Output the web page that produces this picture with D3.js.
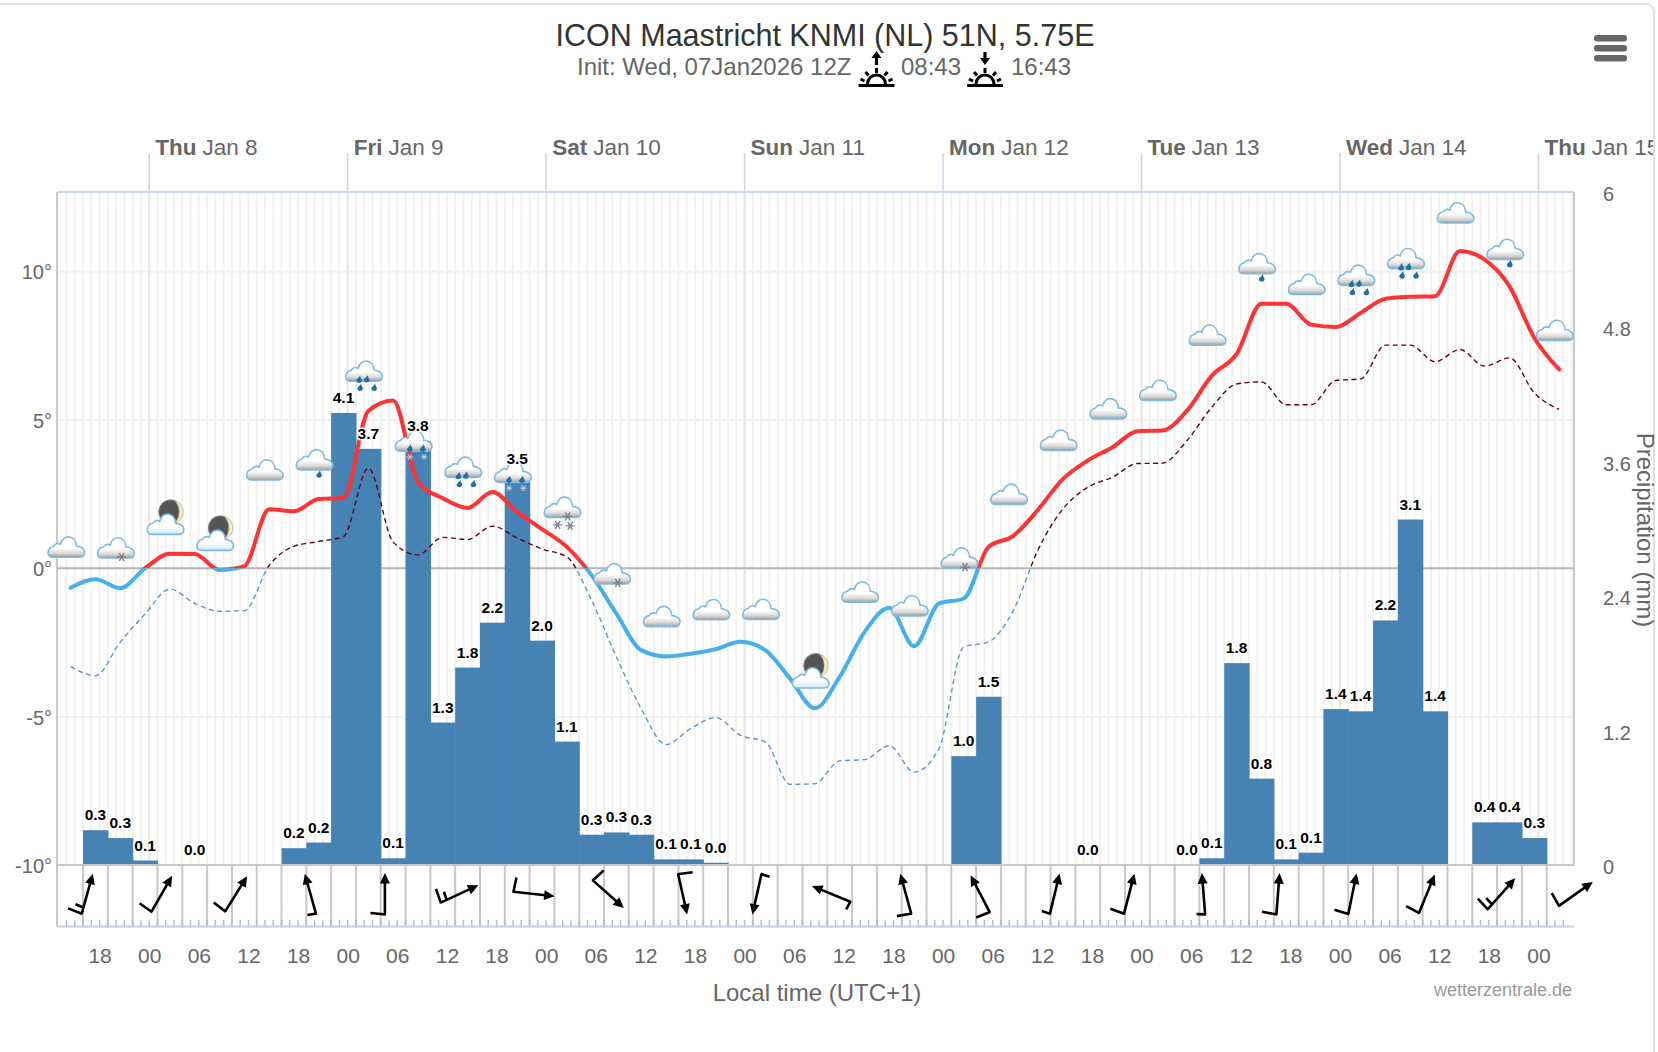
<!DOCTYPE html>
<html>
<head>
<meta charset="utf-8">
<title>ICON Maastricht</title>
<script src="https://cdn.jsdelivr.net/npm/d3@7"></script>
<style>
html,body{margin:0;padding:0;background:#fff;overflow:hidden}
svg{display:block;font-family:"Liberation Sans",Arial,sans-serif}
</style>
</head>
<body>
<div id="chart"></div>
<script>
// ---- data (hours counted from Thu Jan 8 00:00 local time) ----
const title = "ICON Maastricht KNMI (NL) 51N, 5.75E";
const initText = "Init: Wed, 07Jan2026 12Z";
const sunriseText = "08:43";
const sunsetText = "16:43";
const dayNames = ["Thu","Fri","Sat","Sun","Mon","Tue","Wed","Thu"];
const dayDates = ["Jan 8","Jan 9","Jan 10","Jan 11","Jan 12","Jan 13","Jan 14","Jan 15"];

// 3-hourly temperature samples, first sample at hour -9.5
const tempStart = -9.5, tempStep = 3;
const temperature = [-0.66,-0.37,-0.67,0,0.49,0.48,-0.06,0.07,1.99,1.92,2.33,2.37,5.3,5.65,2.9,2.36,2.03,2.57,1.89,1.32,
 0.72,-0.24,-1.53,-2.76,-2.97,-2.88,-2.73,-2.48,-2.76,-3.72,-4.72,-3.66,-2.15,-1.33,-2.63,-1.19,-1.02,0.72,1.09,1.98,
 3.01,3.63,4.08,4.62,4.64,5.31,6.49,7.22,8.91,8.91,8.21,8.13,8.6,9.08,9.15,9.17,10.69,10.4,9.5,7.76,6.7];
const dewPoint = [-3.31,-3.62,-2.49,-1.54,-0.7,-1.18,-1.45,-1.43,0.09,0.74,0.9,1.07,3.37,0.88,0.45,1.04,0.97,1.42,1.02,0.65,
 0.38,-1.08,-2.99,-4.73,-5.94,-5.4,-5.03,-5.63,-5.85,-7.28,-7.26,-6.49,-6.45,-5.98,-6.87,-6.08,-2.65,-2.48,-1.42,0.63,
 2.0,2.73,3.07,3.53,3.54,4.3,5.43,6.21,6.28,5.51,5.51,6.33,6.38,7.52,7.52,6.96,7.37,6.81,7.09,5.91,5.35];

// 3-hour precipitation bars
const precipStart = [-8,-5,-2,4,16,19,22,25,28,31,34,37,40,43,46,49,52,55,58,61,64,67,97,100,112,124,127,130,133,136,139,142,145,148,151,154,160,163,166];
const precipValue = [0.31,0.24,0.04,0,0.15,0.2,4.03,3.71,0.06,3.78,1.27,1.76,2.16,3.49,2.0,1.1,0.27,0.29,0.27,0.05,0.05,0.02,0.97,1.5,0,0,0.06,1.8,0.77,0.05,0.11,1.39,1.37,2.18,3.08,1.37,0.38,0.38,0.24];
const precipLabel = ["0.3","0.3","0.1","0.0","0.2","0.2","4.1","3.7","0.1","3.8","1.3","1.8","2.2","3.5","2.0","1.1","0.3","0.3","0.3","0.1","0.1","0.0","1.0","1.5","0.0","0.0","0.1","1.8","0.8","0.1","0.1","1.4","1.4","2.2","3.1","1.4","0.4","0.4","0.3"];

// weather symbols, 6-hourly from hour -10; level is read on the temperature axis
const iconStart = -10, iconStep = 6;
const iconLevel = [0.71,0.68,1.48,0.94,3.31,3.65,6.64,4.28,3.40,3.23,2.05,-0.19,-1.63,-1.40,-1.39,-3.70,-0.81,-1.27,0.34,2.49,4.31,5.37,5.99,7.85,10.26,9.56,9.87,10.43,11.97,10.74,8.01];
const iconKind = ["cloud","snow1","moon","moon","cloud","rain1","rain3","sleet","rain3","sleet","snow3","snow1","cloud","cloud","cloud","moon","cloud","cloud","snow1","cloud","cloud","cloud","cloud","cloud","rain1","cloud","rain3","rain3","cloud","rain1","cloud"];

// wind barbs, 9-hourly from hour -7.5: direction the arrow points (deg) and feathers
const windStart = -7.5, windStep = 9;
const windBearing = [15.6,29.8,31.8,-15.5,0,65.2,96.3,131.7,167.5,192.7,292.4,344.7,332.5,13.6,14.6,-4.5,4.4,11.5,22.4,41.6,54.8];
const windFeather = ["LS","L","L","S","L","LS","L","L","L","S","S","L","L","S","L","S","L","L","L","LS","L"];

const tempTicks = [-10,-5,0,5,10];
const precipTicks = [0,1.2,2.4,3.6,4.8,6];

// ---- layout ----
const W = 1658, H = 1052;
const plot = {left:57, right:1574, top:192, bottom:865, windBottom:927};
const x = d3.scaleLinear().domain([-11.15,172.3]).range([plot.left,1574]);
const yT = d3.scaleLinear().domain([-10,10]).range([plot.bottom,271.5]);
const yP = d3.scaleLinear().domain([0,6]).range([plot.bottom,plot.top]);

const svg = d3.select("#chart").append("svg").attr("width",W).attr("height",H);
const defs = svg.append("defs");

const cg = defs.append("linearGradient").attr("id","cg").attr("x1",0).attr("x2",0).attr("y1",0).attr("y2",1);
[[0,"#ffffff"],[0.55,"#ffffff"],[0.82,"#d6d6d6"],[1,"#9a9a9a"]].forEach(s=>cg.append("stop").attr("offset",s[0]).attr("stop-color",s[1]));
const mg = defs.append("linearGradient").attr("id","mg").attr("x1",0).attr("x2",0).attr("y1",0).attr("y2",1);
[[0,"#ffffff"],[0.6,"#ffffff"],[1,"#cfe8f6"]].forEach(s=>mg.append("stop").attr("offset",s[0]).attr("stop-color",s[1]));

defs.append("clipPath").attr("id","above").append("rect").attr("x",0).attr("y",0).attr("width",W).attr("height",yT(0));
defs.append("clipPath").attr("id","below").append("rect").attr("x",0).attr("y",yT(0)).attr("width",W).attr("height",H);
defs.append("clipPath").attr("id","card").append("rect").attr("x",0).attr("y",0).attr("width",1653).attr("height",H);

// card outline
svg.append("rect").attr("x",-12).attr("y",4).attr("width",1666).attr("height",H+40).attr("rx",8)
  .attr("fill","#fff").attr("stroke","#e0e0e0").attr("stroke-width",2);

// ---- title ----
svg.append("text").attr("x",825).attr("y",46).attr("text-anchor","middle").attr("font-size",30.5).attr("fill","#333").text(title);
svg.append("text").attr("x",577).attr("y",75).attr("font-size",24).attr("fill","#666").text(initText);
svg.append("text").attr("x",901).attr("y",75).attr("font-size",24).attr("fill","#666").text(sunriseText);
svg.append("text").attr("x",1011).attr("y",75).attr("font-size",24).attr("fill","#666").text(sunsetText);

function sunIcon(cx, up){
  const g = svg.append("g").attr("transform",`translate(${cx},0)`).attr("stroke","#000").attr("fill","none");
  g.append("line").attr("x1",-18).attr("x2",18).attr("y1",85.5).attr("y2",85.5).attr("stroke-width",2.8);
  g.append("path").attr("d","M-9,84 A9,9 0 0 1 9,84").attr("stroke-width",3);
  [[-16,79,-12,81],[-11,72,-8,75.5],[0,68,0,73],[11,72,8,75.5],[16,79,12,81]].forEach(r=>
    g.append("line").attr("x1",r[0]).attr("y1",r[1]).attr("x2",r[2]).attr("y2",r[3]).attr("stroke-width",3));
  g.append("line").attr("x1",0).attr("x2",0).attr("y1",up?57:52).attr("y2",up?65:60).attr("stroke-width",3.2);
  g.append("path").attr("stroke","none").attr("fill","#000")
    .attr("d", up ? "M0,51 L5,58 L-5,58 Z" : "M0,65 L5,58 L-5,58 Z");
}
sunIcon(876.5,true);
sunIcon(985,false);

// hamburger
[35,45,55].forEach(yy=>svg.append("rect").attr("x",1594).attr("y",yy).attr("width",33).attr("height",6.5).attr("rx",3).attr("fill","#666"));

// ---- grid ----
const grid = svg.append("g");
d3.range(-11,173).forEach(h=>{
  if(x(h)<=plot.left+2 || x(h)>=plot.right-1) return;
  grid.append("line").attr("x1",x(h)).attr("x2",x(h)).attr("y1",plot.top).attr("y2",plot.bottom)
    .attr("stroke","#f1f1f1").attr("stroke-width",2);
});
tempTicks.filter(t=>t!==0 && t!==-10).forEach(t=>
  grid.append("line").attr("x1",plot.left).attr("x2",plot.right).attr("y1",yT(t)).attr("y2",yT(t)).attr("stroke","#efefef").attr("stroke-width",2));
dayNames.forEach((d,i)=>{
  const X = x(i*24);
  grid.append("line").attr("x1",X).attr("x2",X).attr("y1",plot.top).attr("y2",plot.bottom).attr("stroke","#e6e6e6").attr("stroke-width",2);
  grid.append("line").attr("x1",X).attr("x2",X).attr("y1",153).attr("y2",plot.top).attr("stroke","#ccd6eb").attr("stroke-width",1.5);
});
grid.append("line").attr("x1",plot.left).attr("x2",plot.right).attr("y1",yT(0)).attr("y2",yT(0)).attr("stroke","#b5b5b5").attr("stroke-width",2);

// day labels
const dayG = svg.append("g").attr("clip-path","url(#card)");
dayNames.forEach((d,i)=>{
  const t = dayG.append("text").attr("x",x(i*24)+6).attr("y",155).attr("font-size",22.5).attr("fill","#666");
  t.append("tspan").attr("font-weight","bold").text(d);
  t.append("tspan").attr("dx",6).text(dayDates[i]);
});

// ---- bars ----
const bars = precipStart.map((s,i)=>({s, v:precipValue[i], l:precipLabel[i]}));
svg.append("g").selectAll("rect").data(bars).join("rect")
  .attr("x",d=>x(d.s)).attr("width",d=>x(d.s+3)-x(d.s)+0.6)
  .attr("y",d=>yP(d.v)).attr("height",d=>yP(0)-yP(d.v))
  .attr("fill","#4682b4");

// frame
svg.append("line").attr("x1",plot.left).attr("x2",plot.right).attr("y1",plot.top).attr("y2",plot.top).attr("stroke","#ccd6eb").attr("stroke-width",2);
svg.append("line").attr("x1",plot.left).attr("x2",plot.left).attr("y1",plot.top).attr("y2",plot.windBottom).attr("stroke","#c8c8c8").attr("stroke-width",2);
svg.append("line").attr("x1",plot.right).attr("x2",plot.right).attr("y1",plot.top).attr("y2",plot.bottom).attr("stroke","#c8c8c8").attr("stroke-width",2);
svg.append("line").attr("x1",plot.left).attr("x2",plot.right).attr("y1",plot.bottom).attr("y2",plot.bottom).attr("stroke","#c8c8c8").attr("stroke-width",2);

// ---- wind panel ----
const wind = svg.append("g");
d3.range(-8,170,3).forEach(h=>
  wind.append("line").attr("x1",x(h)).attr("x2",x(h)).attr("y1",plot.bottom).attr("y2",plot.windBottom).attr("stroke","#c8c8c8").attr("stroke-width",2));
d3.range(-10,172).forEach(h=>
  wind.append("line").attr("x1",x(h)).attr("x2",x(h)).attr("y1",920).attr("y2",plot.windBottom+1).attr("stroke","#b8b8b8").attr("stroke-width",1.4));
wind.append("line").attr("x1",plot.left).attr("x2",plot.right).attr("y1",926.5).attr("y2",926.5).attr("stroke","#ccd6eb").attr("stroke-width",2.5);

const barbs = windBearing.map((b,i)=>({h:windStart+i*windStep,b,f:windFeather[i]}));
const barbG = svg.append("g").selectAll("g").data(barbs).join("g")
  .attr("transform",d=>`translate(${x(d.h)},894) rotate(${d.b})`);
barbG.append("line").attr("x1",0).attr("x2",0).attr("y1",20.5).attr("y2",-14).attr("stroke","#000").attr("stroke-width",2.6);
barbG.append("path").attr("d","M0,-21 L5,-10.5 L-5,-10.5 Z").attr("fill","#000");
barbG.append("path").attr("fill","none").attr("stroke","#000").attr("stroke-width",2.6).attr("stroke-linecap","butt")
  .attr("d",d=>{
    if(d.f==="L") return "M0.9,20.5 L-14.5,19";
    if(d.f==="S") return "M0.9,20.5 L-8.5,19.5";
    return "M0.9,20.5 L-14.5,19 M0,14 L-8.5,13";
  });

// ---- lines ----
const tempPts = temperature.map((v,i)=>[tempStart+i*tempStep,v]);
const dewPts = dewPoint.map((v,i)=>[tempStart+i*tempStep,v]);
const line = d3.line().x(d=>x(d[0])).y(d=>yT(d[1])).curve(d3.curveMonotoneX);

const dashes = "5,3.5";
svg.append("path").attr("d",line(dewPts)).attr("clip-path","url(#above)").attr("fill","none").attr("stroke","#660011").attr("stroke-width",1.4).attr("stroke-dasharray",dashes);
svg.append("path").attr("d",line(dewPts)).attr("clip-path","url(#below)").attr("fill","none").attr("stroke","#5b93d6").attr("stroke-width",1.4).attr("stroke-dasharray",dashes);
svg.append("path").attr("d",line(tempPts)).attr("clip-path","url(#above)").attr("fill","none").attr("stroke","#ff3333").attr("stroke-width",4).attr("stroke-linecap","round").attr("stroke-linejoin","round");
svg.append("path").attr("d",line(tempPts)).attr("clip-path","url(#below)").attr("fill","none").attr("stroke","#47b0ec").attr("stroke-width",4).attr("stroke-linecap","round").attr("stroke-linejoin","round");

// ---- weather symbols ----
const cloudPath = "M-14,10 C-20,10 -20,1 -13,-1 C-11,-4 -8,-4 -6,-3 C-4,-13 9,-13 10,-1 C14,-1 19,2 18,6 C18,8 16,10 14,10 Z";
const dropPath = "M1,-4.2 C0.8,-1.8 3.1,-0.6 2.7,1.4 C2.2,3.8 -2.2,4.1 -2.8,1.4 C-3.1,-0.6 0,-1.8 1,-4.2 Z";
const starPath = "M-4.5,0 H4.5 M-2.4,-4 L2.4,4 M-2.4,4 L2.4,-4";

const icons = svg.append("g").selectAll("g").data(iconKind.map((k,i)=>({k,h:iconStart+i*iconStep,v:iconLevel[i]}))).join("g")
  .attr("transform",d=>`translate(${x(d.h)},${yT(d.v)})`);

icons.each(function(d){
  const g = d3.select(this);
  if(d.k==="moon"){
    g.append("circle").attr("cx",5).attr("cy",-12.5).attr("r",12).attr("fill","#555").attr("stroke","#888").attr("stroke-width",1);
    g.append("path").attr("d","M9,-24 A12,12 0 0 1 9,-1 A17,17 0 0 0 9,-24 Z").attr("fill","#efe9c4").attr("stroke","#b5b08a").attr("stroke-width",.6);
  }
  g.append("path").attr("d",cloudPath).attr("fill",d.k==="moon"?"url(#mg)":"url(#cg)")
    .attr("stroke","#7fbcdc").attr("stroke-width",1.6);
  const drop = (dx,dy)=>g.append("path").attr("d",dropPath).attr("transform",`translate(${dx},${dy})`).attr("fill","#1f6fa8");
  const star = (dx,dy,c,s)=>g.append("path").attr("d",starPath).attr("transform",`translate(${dx},${dy}) scale(${s||1})`).attr("fill","none").attr("stroke",c||"#808080").attr("stroke-width",1.4);
  if(d.k==="rain1") drop(4.5,14.5);
  if(d.k==="rain3"){ drop(-5,8.5); drop(-4,16.5); drop(10,16.5); drop(2.5,8,.6); }
  if(d.k==="sleet"){ drop(-4,7.3); drop(9,7.3); star(-4,15.7,"#c9ddf0",0.7); star(10.3,15.7,"#c9ddf0",0.7); }
  if(d.k==="snow1") star(5.5,9);
  if(d.k==="snow3"){ star(5,9); star(-5,17.5); star(7.5,18.5); }
});

// ---- bar labels ----
svg.append("g").selectAll("text").data(bars).join("text")
  .attr("x",d=>x(d.s+1.5)).attr("y",d=>yP(d.v)-10)
  .attr("text-anchor","middle").attr("font-size",15.5).attr("font-weight","bold").attr("fill","#000")
  .attr("stroke","#fff").attr("stroke-width",3).attr("stroke-linejoin","round").attr("paint-order","stroke")
  .text(d=>d.l);

// ---- axes ----
function styleAxis(g, size, col){
  g.select(".domain").remove();
  g.selectAll(".tick line").remove();
  g.selectAll("text").attr("font-size",size).attr("fill",col).attr("font-family",'"Liberation Sans",Arial,sans-serif');
}
svg.append("g").attr("transform",`translate(${plot.left+1},1)`)
  .call(d3.axisLeft(yT).tickValues(tempTicks).tickFormat(d=>d+"°").tickSize(0).tickPadding(6))
  .call(g=>styleAxis(g,20,"#666"));
svg.append("g").attr("transform",`translate(${plot.right},2.5)`)
  .call(d3.axisRight(yP).tickValues(precipTicks).tickFormat(d=>d).tickSize(0).tickPadding(29))
  .call(g=>styleAxis(g,20,"#666"));
const hourFmt = h=>String(((h%24)+24)%24).padStart(2,"0");
svg.append("g").attr("transform",`translate(0,948)`)
  .call(d3.axisBottom(x).tickValues(d3.range(-6,169,6)).tickFormat(hourFmt).tickSize(0).tickPadding(0))
  .call(g=>styleAxis(g,21,"#666"));

svg.append("text").attr("x",817).attr("y",1001).attr("text-anchor","middle").attr("font-size",24).attr("fill","#666").text("Local time (UTC+1)");
svg.append("text").attr("x",1572).attr("y",996).attr("text-anchor","end").attr("font-size",18).attr("fill","#999").text("wetterzentrale.de");
svg.append("text").attr("transform","translate(1637,530) rotate(90)").attr("text-anchor","middle").attr("font-size",24).attr("fill","#666").text("Precipitation (mm)");
</script>
</body>
</html>
